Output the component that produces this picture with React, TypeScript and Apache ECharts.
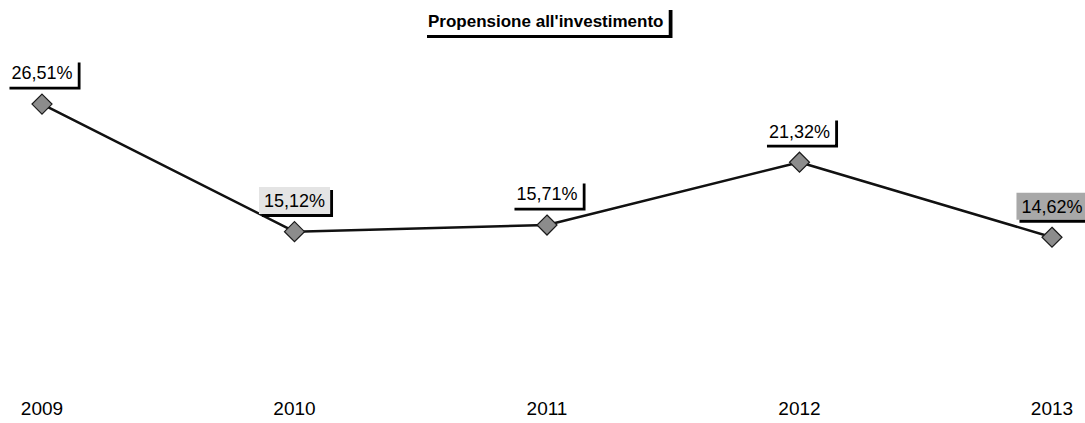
import React, { useEffect, useRef } from "react";
import * as echarts from "echarts";

const years = ["2009", "2010", "2011", "2012", "2013"];
const values = [26.51, 15.12, 15.71, 21.32, 14.62];
const labelBackgrounds = ["#ffffff", "#e4e4e4", "#ffffff", "#ffffff", "#a8a8a8"];
const titleText = "Propensione all'investimento";

export default function App() {
  const ref = useRef<HTMLDivElement>(null);
  useEffect(() => {
    if (!ref.current) return;
    const chart = echarts.init(ref.current, undefined, { renderer: "svg" });
    const font = "'Liberation Sans', Arial, sans-serif";
    chart.setOption({
      animation: false,
      backgroundColor: "#ffffff",
      title: {
        text: titleText,
        left: 423,
        top: 7,
        padding: [3, 5, 3, 5],
        backgroundColor: "#ffffff",
        shadowColor: "#000000",
        shadowBlur: 0,
        shadowOffsetX: 4,
        shadowOffsetY: 3,
        textStyle: {
          fontFamily: font,
          fontWeight: "bold",
          fontSize: 17,
          lineHeight: 22,
          color: "#000000",
        },
      },
      grid: { left: 42, right: 33, top: 65, bottom: 22 },
      xAxis: {
        type: "category",
        data: years,
        boundaryGap: false,
        axisLine: { show: false },
        axisTick: { show: false },
        splitLine: { show: false },
        axisLabel: {
          margin: -2,
          fontFamily: font,
          fontSize: 19,
          color: "#000000",
        },
      },
      yAxis: {
        type: "value",
        min: 0,
        max: 30,
        show: false,
      },
      series: [
        {
          type: "line",
          data: values.map((v, i) => ({
            value: v,
            label: { backgroundColor: labelBackgrounds[i] },
          })),
          symbol: "diamond",
          symbolSize: 20,
          lineStyle: { color: "#111111", width: 2.5 },
          itemStyle: {
            color: "#8c8c8c",
            borderColor: "#1a1a1a",
            borderWidth: 1.2,
          },
          label: {
            show: true,
            position: "top",
            distance: 7,
            formatter: (p: any) => p.value.toFixed(2).replace(".", ",") + "%",
            fontFamily: font,
            fontSize: 18,
            lineHeight: 20,
            color: "#000000",
            padding: [4, 5, 3, 5],
            backgroundColor: "#ffffff",
            shadowColor: "#000000",
            shadowBlur: 0,
            shadowOffsetX: 3,
            shadowOffsetY: 3,
          },
        },
      ],
    });
    return () => chart.dispose();
  }, []);
  return <div ref={ref} style={{ width: 1085, height: 423, position: "absolute", left: 0, top: 0 }} />;
}
